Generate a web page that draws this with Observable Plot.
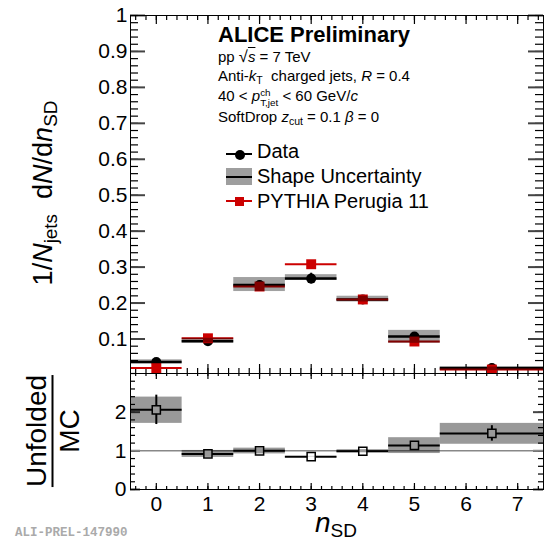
<!DOCTYPE html>
<html><head><meta charset="utf-8">
<script src="https://cdn.jsdelivr.net/npm/d3@7"></script>
<script src="https://cdn.jsdelivr.net/npm/@observablehq/plot@0.6"></script>
<style>
body{margin:0;background:#fff;}
#wrap{position:relative;width:544px;height:541px;overflow:hidden;font-family:"Liberation Sans",Arial,sans-serif;color:#000;}
.abs{position:absolute;white-space:nowrap;line-height:1;}
.rot{position:absolute;white-space:nowrap;line-height:1;transform:translate(-50%,-50%) rotate(-90deg);}
sub{font-size:0.7em;vertical-align:-0.3em;line-height:0;}
.panel{position:absolute;left:0;}
</style></head><body><div id="wrap"></div>
<script>
// ---- data ----
const binCenter = [0, 1, 2, 3, 4, 5, 6.5];
const binLo     = [-0.5, 0.5, 1.5, 2.5, 3.5, 4.5, 5.5];
const binHi     = [0.5, 1.5, 2.5, 3.5, 4.5, 5.5, 7.5];
const dataVal   = [0.036, 0.094, 0.250, 0.268, 0.210, 0.107, 0.019];
const dataStat  = [0.004, 0.004, 0.012, 0.015, 0.005, 0.005, 0.003];
const shapeLo   = [0.031, 0.089, 0.232, 0.263, 0.203, 0.088, 0.012];
const shapeHi   = [0.042, 0.102, 0.271, 0.279, 0.219, 0.124, 0.022];
const pythiaVal = [0.019, 0.102, 0.246, 0.308, 0.210, 0.093, 0.015];
const ratioVal  = [2.06, 0.92, 1.00, 0.85, 0.99, 1.14, 1.45];
const ratioStat = [0.38, 0.02, 0.02, 0.02, 0.02, 0.05, 0.20];
const ratioSysLo = [1.71, 0.83, 0.92, 0.845, 0.95, 0.93, 1.17];
const ratioSysHi = [2.39, 1.01, 1.07, 0.855, 1.03, 1.34, 1.71];
// ---- tick values ----
const topYTicks = [0.1, 0.2, 0.3, 0.4, 0.5, 0.6, 0.7, 0.8, 0.9, 1];
const topYMinor = d3.range(0.02, 1.001, 0.02);
const ratioYTicks = [0, 1, 2];
const ratioYMinor = d3.range(0, 3.001, 0.2);
const xTicks = [0, 1, 2, 3, 4, 5, 6, 7];
const xMinor = d3.range(-0.4, 7.5, 0.2);

const table = binCenter.map((c, i) => ({
  c, lo: binLo[i], hi: binHi[i], v: dataVal[i], e: dataStat[i],
  sLo: shapeLo[i], sHi: shapeHi[i], p: pythiaVal[i],
  r: ratioVal[i], re: ratioStat[i], rLo: ratioSysLo[i], rHi: ratioSysHi[i]
}));

const RED = "#cc0000";
const FONT = "Liberation Sans, Arial, sans-serif";
const W = 544, ML = 130, MR = 1;
const PW = W - ML - MR;               // frame width in px
const XD = [-0.5, 7.5];

// inward-pointing frame ticks, lengths given in px and converted to data units
function frameTicks(YD, plotH, yMaj, yMin, yMajLen, yMinLen, xMajLen, xMinLen) {
  const kx = (XD[1] - XD[0]) / PW, ky = (YD[1] - YD[0]) / plotH;
  const maj = {stroke: "#444", strokeWidth: 2};
  const mnr = {stroke: "#000", strokeWidth: 1.2};
  const yT = (arr, len, s) => [
    Plot.ruleY(arr, {y: d => d, x1: () => XD[0], x2: () => XD[0] + len * kx, ...s}),
    Plot.ruleY(arr, {y: d => d, x1: () => XD[1] - len * kx, x2: () => XD[1], ...s})
  ];
  const xT = (arr, len, s) => [
    Plot.ruleX(arr, {x: d => d, y1: () => YD[0], y2: () => YD[0] + len * ky, ...s}),
    Plot.ruleX(arr, {x: d => d, y1: () => YD[1] - len * ky, y2: () => YD[1], ...s})
  ];
  return [
    ...yT(yMin, yMinLen, mnr), ...yT(yMaj, yMajLen, maj),
    ...xT(xMinor, xMinLen, mnr), ...xT(xTicks, xMajLen, mnr)
  ];
}

const topH = 374, topMT = 15, topMB = 1, topYD = [0.004, 1];
const topPlot = Plot.plot({
  width: W, height: topH,
  marginLeft: ML, marginRight: MR, marginTop: topMT, marginBottom: topMB,
  x: {domain: XD, axis: null},
  y: {domain: topYD},
  style: {fontFamily: FONT, fontSize: "21px", background: "transparent", color: "#000"},
  marks: [
    Plot.axisY({anchor: "left", ticks: topYTicks, tickSize: 0, tickPadding: 3, tickFormat: d => String(d), label: null}),
    ...frameTicks(topYD, topH - topMT - topMB, topYTicks, topYMinor, 15, 8, 9, 5),
    Plot.ruleX(table, {x: "c", y1: d => d.v - d.e, y2: d => d.v + d.e, stroke: "#000", strokeWidth: 2}),
    Plot.ruleY(table, {y: "v", x1: "lo", x2: "hi", stroke: "#000", strokeWidth: 2.5}),
    Plot.dot(table, {x: "c", y: "v", r: 5, fill: "#000", stroke: null}),
    Plot.ruleY(table, {y: "p", x1: "lo", x2: "hi", stroke: RED, strokeWidth: 2}),
    Plot.dot(table, {x: "c", y: "p", symbol: "square", r: 5.6, fill: RED, stroke: null}),
    Plot.rect(table, {x1: "lo", x2: "hi", y1: "sLo", y2: "sHi", fill: "#000", fillOpacity: 0.37}),
    Plot.frame({stroke: "#000", strokeWidth: 1})
  ]
});

const botH = 169, botMT = 1, botMB = 52, botYD = [0, 3];
const botPlot = Plot.plot({
  width: W, height: botH,
  marginLeft: ML, marginRight: MR, marginTop: botMT, marginBottom: botMB,
  x: {domain: XD},
  y: {domain: botYD},
  style: {fontFamily: FONT, fontSize: "21px", background: "transparent", color: "#000"},
  marks: [
    Plot.axisY({anchor: "left", ticks: ratioYTicks, tickSize: 0, tickPadding: 4, tickFormat: d => String(d), label: null}),
    Plot.axisX({anchor: "bottom", ticks: xTicks, tickSize: 0, tickPadding: 7, tickFormat: d => String(d), label: null}),
    ...frameTicks(botYD, botH - botMT - botMB, ratioYTicks, ratioYMinor, 10, 5, 6, 3),
    Plot.ruleY([1], {stroke: "#888", strokeWidth: 1.5}),
    Plot.ruleY(table, {y: "r", x1: "lo", x2: "hi", stroke: "#000", strokeWidth: 2}),
    Plot.ruleX(table, {x: "c", y1: d => d.r - d.re, y2: d => d.r + d.re, stroke: "#000", strokeWidth: 2}),
    Plot.dot(table, {x: "c", y: "r", symbol: "square", r: 4.6, fill: "#fff", stroke: "#000", strokeWidth: 1.5}),
    Plot.rect(table, {x1: "lo", x2: "hi", y1: "rLo", y2: "rHi", fill: "#000", fillOpacity: 0.4}),
    Plot.frame({stroke: "#000", strokeWidth: 1})
  ]
});

const wrap = document.getElementById("wrap");
topPlot.classList.add("panel"); topPlot.style.top = "0px";
botPlot.classList.add("panel"); botPlot.style.top = "372px";
wrap.appendChild(topPlot);
wrap.appendChild(botPlot);

function addDiv(html, css, cls = "abs") {
  const d = document.createElement("div");
  d.className = cls;
  d.innerHTML = html;
  Object.assign(d.style, css);
  wrap.appendChild(d);
  return d;
}

// Annotation block
addDiv("ALICE Preliminary", {left: "218px", top: "24px", fontSize: "22px", fontWeight: "bold"});
addDiv('pp <span style="font-size:1.1em">√</span><span style="font-style:italic;text-decoration:overline">s</span> = 7 TeV', {left: "218px", top: "48px", fontSize: "15px"});
addDiv('Anti-<i>k</i><sub>T</sub>&nbsp; charged jets, <i>R</i> = 0.4', {left: "218px", top: "68px", fontSize: "15px"});
addDiv('40 &lt; <i>p</i><span style="display:inline-block;vertical-align:-0.5em;font-size:0.66em;line-height:1.0;text-align:left"><span style="display:block">ch</span><span style="display:block">T,jet</span></span> &lt; 60 GeV/<i>c</i>', {left: "218px", top: "88px", fontSize: "15px"});
addDiv('SoftDrop <i>z</i><sub>cut</sub> = 0.1 <i>β</i> = 0', {left: "218px", top: "109px", fontSize: "15px"});

// Legend
addDiv("", {left: "226px", top: "153px", width: "26px", height: "2px", background: "#000"});
addDiv("", {left: "234.5px", top: "149.5px", width: "10px", height: "10px", borderRadius: "50%", background: "#000"});
addDiv("Data", {left: "257px", top: "141px", fontSize: "20px"});
addDiv("", {left: "226px", top: "168px", width: "26px", height: "17px", background: "#9e9e9e"});
addDiv("", {left: "226px", top: "175.5px", width: "26px", height: "2px", background: "#000"});
addDiv("Shape Uncertainty", {left: "257px", top: "166px", fontSize: "20px"});
addDiv("", {left: "226px", top: "200px", width: "26px", height: "2px", background: RED});
addDiv("", {left: "234.5px", top: "196.5px", width: "9px", height: "9px", background: RED});
addDiv("PYTHIA Perugia 11", {left: "257px", top: "191px", fontSize: "20px"});

// Axis titles
addDiv('1/<i>N</i><sub>jets</sub>&nbsp; d<i>N</i>/d<i>n</i><sub>SD</sub>', {left: "43px", top: "193px", fontSize: "27px"}, "rot");
addDiv('<div style="text-align:center;line-height:1.0"><div style="padding:0 0 1px 0">Unfolded</div><div style="border-top:2px solid #000;padding-top:2px">MC</div></div>', {left: "53px", top: "431px", fontSize: "28px"}, "rot");
addDiv('<i>n</i><sub style="font-size:0.68em;vertical-align:-0.28em">SD</sub>', {left: "315px", top: "509px", fontSize: "28px"});
addDiv("ALI-PREL-147990", {left: "15px", top: "527px", fontSize: "12.5px", fontFamily: "Liberation Mono, monospace", color: "#aaa", fontWeight: "bold"});
</script></body></html>
